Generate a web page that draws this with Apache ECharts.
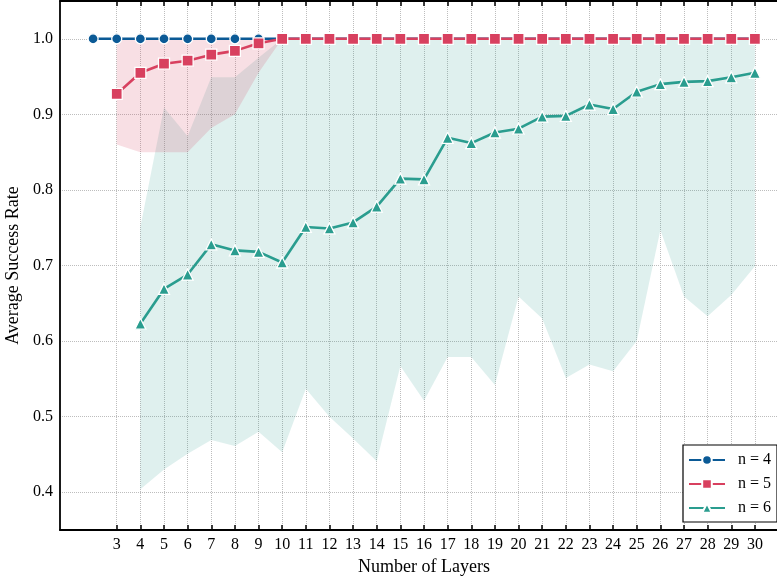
<!DOCTYPE html>
<html>
<head>
<meta charset="utf-8">
<script src="https://cdn.jsdelivr.net/npm/echarts@6/dist/echarts.min.js"></script>
<style>
  html, body { margin: 0; padding: 0; background: #fff; }
  #chart { width: 777px; height: 579px; }
</style>
</head>
<body>
<div id="chart"></div>
<script>
// ---- data ----
const layersN4 = [2,3,4,5,6,7,8,9,10,11,12,13,14,15,16,17,18,19,20,21,22,23,24,25,26,27,28,29,30];
const meanN4   = [1,1,1,1,1,1,1,1,1,1,1,1,1,1,1,1,1,1,1,1,1,1,1,1,1,1,1,1,1];

const layersN5 = [3,4,5,6,7,8,9,10,11,12,13,14,15,16,17,18,19,20,21,22,23,24,25,26,27,28,29,30];
const meanN5   = [0.927,0.955,0.967,0.971,0.979,0.984,0.994,1,1,1,1,1,1,1,1,1,1,1,1,1,1,1,1,1,1,1,1,1];
const lowerN5  = [0.86,0.85,0.85,0.85,0.882,0.90,0.955,1,1,1,1,1,1,1,1,1,1,1,1,1,1,1,1,1,1,1,1,1];
const upperN5  = [1,1,1,1,1,1,1,1,1,1,1,1,1,1,1,1,1,1,1,1,1,1,1,1,1,1,1,1];

const layersN6 = [4,5,6,7,8,9,10,11,12,13,14,15,16,17,18,19,20,21,22,23,24,25,26,27,28,29,30];
const meanN6   = [0.623,0.669,0.688,0.728,0.720,0.718,0.704,0.751,0.749,0.757,0.778,0.815,0.814,0.869,0.862,0.876,0.881,0.897,0.898,0.913,0.907,0.930,0.940,0.943,0.944,0.949,0.955];
const lowerN6  = [0.404,0.430,0.451,0.469,0.461,0.480,0.453,0.537,0.500,0.471,0.441,0.567,0.521,0.579,0.579,0.542,0.659,0.630,0.551,0.569,0.560,0.600,0.747,0.659,0.633,0.661,0.699];
const upperN6  = [0.751,0.909,0.871,0.949,0.949,0.975,1,1,1,1,1,1,1,1,1,1,1,1,1,1,1,1,1,1,1,1,1];

const xTicks = [3,4,5,6,7,8,9,10,11,12,13,14,15,16,17,18,19,20,21,22,23,24,25,26,27,28,29,30];
const yTicks = [0.4,0.5,0.6,0.7,0.8,0.9,1.0];

// ---- styles ----
const C4 = '#0b5a96', C5 = '#d8405f', C6 = '#2a9d8f';
const FONT = '"Liberation Serif", "DejaVu Serif", serif';

function pairs(xs, ys) { return xs.map((x, i) => [x, ys[i]]); }
function bandData(xs, lo, hi) { return xs.map((x, i) => [x, lo[i], hi[i]]); }

function bandSeries(name, xs, lo, hi, fill, z) {
  const d = bandData(xs, lo, hi);
  return {
    type: 'custom',
    name: name,
    silent: true,
    z: z,
    encode: { x: 0, y: [1, 2] },
    data: d,
    renderItem: function (params, api) {
      if (params.dataIndex !== 0) return;
      const top = d.map(p => api.coord([p[0], p[2]]));
      const bot = d.slice().reverse().map(p => api.coord([p[0], p[1]]));
      return {
        type: 'polygon',
        shape: { points: top.concat(bot) },
        style: { fill: fill, stroke: null }
      };
    }
  };
}

function lineSeries(name, xs, ys, color, symbol, size, z) {
  return {
    type: 'line',
    name: name,
    data: pairs(xs, ys),
    z: z,
    symbol: symbol,
    symbolSize: size,
    showAllSymbol: true,
    lineStyle: { color: color, width: 2.6 },
    itemStyle: { color: color, borderColor: '#fff', borderWidth: 1.3 },
    emphasis: { disabled: true }
  };
}

const chart = echarts.init(document.getElementById('chart'), null, { renderer: 'canvas' });
chart.setOption({
  animation: false,
  backgroundColor: '#fff',
  textStyle: { fontFamily: FONT },
  grid: { left: 60, top: 1, width: 728, height: 529, containLabel: false, outerBoundsMode: 'none' },
  xAxis: [{
    type: 'value', min: 0.6, max: 31.4, position: 'bottom',
    name: 'Number of Layers', nameLocation: 'middle', nameGap: 26,
    nameTextStyle: { fontFamily: FONT, fontSize: 18, color: '#000' },
    axisLine: { show: true, onZero: false, lineStyle: { color: '#000', width: 1.8 } },
    axisTick: { show: true, inside: true, length: 5, customValues: xTicks, lineStyle: { color: '#000', width: 1.5 } },
    axisLabel: { customValues: xTicks, fontFamily: FONT, fontSize: 16, color: '#000', margin: 7 },
    splitLine: { show: true, lineStyle: { color: '#bdbdbd', type: 'dotted', width: 1 } }
  }, {
    type: 'value', min: 0.6, max: 31.4, position: 'top',
    axisLine: { show: true, onZero: false, lineStyle: { color: '#000', width: 1.8 } },
    axisTick: { show: true, inside: true, length: 5, customValues: xTicks, lineStyle: { color: '#000', width: 1.5 } },
    axisLabel: { show: false },
    splitLine: { show: false }
  }],
  yAxis: {
    type: 'value', min: 0.35, max: 1.05,
    name: 'Average Success Rate', nameLocation: 'middle', nameGap: 30,
    nameTextStyle: { fontFamily: FONT, fontSize: 18, color: '#000' },
    axisLine: { show: true, onZero: false, lineStyle: { color: '#000', width: 1.8 } },
    axisTick: { show: false, customValues: yTicks },
    axisLabel: { customValues: yTicks, fontFamily: FONT, fontSize: 16, color: '#000', margin: 7,
                 formatter: v => Number(v).toFixed(1) },
    splitLine: { show: true, lineStyle: { color: '#bdbdbd', type: 'dotted', width: 1 } }
  },
  legend: {
    data: ['n = 4', 'n = 5', 'n = 6'],
    orient: 'vertical',
    left: 683, top: 445,
    padding: [7, 6, 6, 5],
    itemGap: 8,
    itemWidth: 36, itemHeight: 12,
    backgroundColor: '#fff',
    borderColor: '#000', borderWidth: 1.2, borderRadius: 0,
    textStyle: { fontFamily: FONT, fontSize: 16, color: '#000', padding: [0, 0, 0, 8] }
  },
  series: [
    bandSeries('bandN6', layersN6, lowerN6, upperN6, 'rgba(42,157,143,0.15)', 1),
    bandSeries('bandN5', layersN5, lowerN5, upperN5, 'rgba(216,64,95,0.17)', 2),
    lineSeries('n = 4', layersN4, meanN4, C4, 'circle', 10, 3),
    lineSeries('n = 5', layersN5, meanN5, C5, 'rect', 11, 4),
    lineSeries('n = 6', layersN6, meanN6, C6, 'triangle', 11, 5)
  ]
});
</script>
</body>
</html>
